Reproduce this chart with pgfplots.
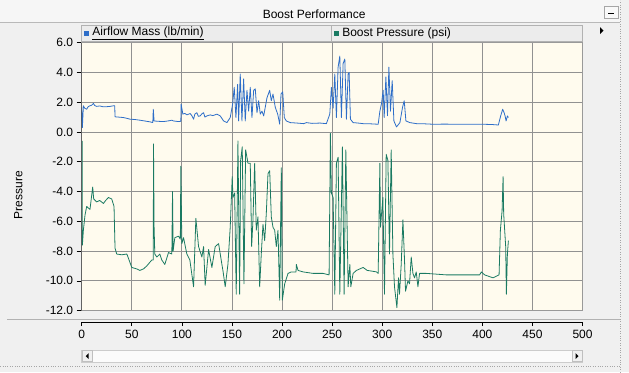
\documentclass[border=0pt]{standalone}
\usepackage{pgfplots}
\pgfplotsset{compat=1.18}
\usepackage{fontspec}
\setmainfont{Liberation Sans}
\definecolor{winbg}{RGB}{240,240,240}
\definecolor{titlebg}{RGB}{246,246,246}
\definecolor{plotbg}{RGB}{255,251,238}
\definecolor{gridgray}{RGB}{145,145,145}
\definecolor{airblue}{RGB}{46,110,200}
\definecolor{boostgreen}{RGB}{26,122,98}
\definecolor{legbg}{RGB}{236,236,236}
\newcommand\uifont{\fontsize{12}{14}\selectfont}
\begin{document}
\begin{tikzpicture}[x=1pt,y=1pt]
% window background
\fill[winbg] (0,0) rectangle (629,372);
\fill[titlebg] (0,350) rectangle (620,372);
\draw[gray!55] (0,350) -- (620,350);
\node[font=\uifont] at (314,358) {Boost Performance};
% minimize button
\draw[gray!70,fill=white!95!gray] (604,354) rectangle (618,366);
\draw[black,line width=1pt] (608,359) -- (614,359);
% legend bar
\draw[gray!60,fill=legbg] (81.5,331) rectangle (582.5,347);
\draw[gray!60] (331.5,331) -- (331.5,347);
\fill[airblue] (84,336) rectangle (89,341);
\node[font=\uifont,anchor=west,inner sep=0pt] at (92,339) {\underline{Airflow Mass (lb/min)}};
\fill[boostgreen] (334,336) rectangle (339,341);
\node[font=\uifont,anchor=west,inner sep=0pt] at (342,339) {Boost Pressure (psi)};
\fill[black] (600,338) -- (600,345) -- (603.5,341.5) -- cycle;
% separators and borders
\draw[gray!60] (7,52.5) -- (620,52.5);
\draw[gray!70,dotted] (620,0) -- (620,372);
\draw[gray!70,dotted] (0,5.5) -- (620,5.5);
% scrollbar
\draw[gray!40,fill=white!97!gray] (81.5,10) rectangle (582.5,22);
\draw[gray!50,fill=winbg] (82,10.5) rectangle (92,21.5);
\fill[black] (88.5,13) -- (88.5,19) -- (85.5,16) -- cycle;
\draw[gray!50,fill=winbg] (572,10.5) rectangle (582,21.5);
\fill[black] (575.5,13) -- (575.5,19) -- (578.5,16) -- cycle;
% y label
\node[font=\uifont,rotate=90] at (18,177) {Pressure};

\begin{axis}[
  at={(81.5pt,61.5pt)}, anchor=south west,
  scale only axis, width=501pt, height=268pt,
  xmin=0, xmax=500, ymin=-12, ymax=6,
  axis background/.style={fill=plotbg},
  xtick={0,50,...,500}, xticklabels={},
  ytick={-12,-10,...,6},
  grid=major, grid style={gridgray, line width=0.7pt},
  axis line style={draw=gray!80},
  tick align=outside, major tick length=5pt,
  ytick pos=left, xtick style={draw=none},
  ytick style={black, line width=0.6pt},
  yticklabel style={font=\uifont, /pgf/number format/.cd, fixed, fixed zerofill, precision=1, assume math mode=true},
  every axis plot/.append style={line width=0.8pt, line join=round},
  clip=true,
]
\addplot[airblue] coordinates {
(0,1.65) (0.7,0.29) (1.7,1.76) (3,1.6) (5,1.53) (6.5,1.7) (8.3,1.76) (10,1.8) (11.7,1.92) (13,1.78) (15,1.72)
(18,1.75) (21.7,1.69) (25,1.7) (28.3,1.72) (31.7,1.76) (33,1.76) (33.3,1.02)
(37,1.0) (41.7,0.97) (45,0.92) (48.3,0.86) (53,0.84) (58.3,0.79) (63,0.74) (68.3,0.68)
(71,0.63) (71.5,1.53) (72.3,0.74) (76,0.72) (81.7,0.70) (86,0.74) (90,0.79) (91.7,0.74)
(96.7,0.70) (99,0.72) (99.3,1.87) (101,1.2) (103,1.25) (105,1.15) (108.3,1.24) (110,1.1)
(111.7,0.86) (113,1.2) (115,1.3) (116.5,1.05) (118.3,1.08) (120,1.22) (121.7,1.3) (123,1.0)
(125,1.08) (128.3,1.15) (131,1.1) (135,1.2) (138.3,1.08) (141.7,0.74) (145,0.63)
(148.3,0.97) (150.7,1.87) (152.3,3.0) (154,0.97) (155.7,3.2) (156.7,0.74) (158.3,3.9)
(160,0.74) (161.7,3.57) (163.3,0.74) (165,2.8) (166.7,1.4) (168.3,3.0) (170,0.97)
(171.7,2.8) (173.3,2.9) (175,1.3) (176.7,2.1) (178.3,1.2) (180,1.4) (181.7,1.08)
(185,2.3) (187.7,2.8) (189.3,2.1) (191,2.55) (193.3,1.65) (195.7,1.2) (197.7,0.52)
(199,2.55) (200.7,2.7) (202.3,0.97) (204.3,0.74) (208.3,0.63) (215,0.6) (221.7,0.56)
(224.3,0.63) (230,0.58) (238,0.6) (244.3,0.56) (247.7,1.2) (249.3,3.0) (251,1.6)
(252.7,3.9) (254.3,0.97) (256,4.36) (257.7,5.1) (259.3,0.97) (261,4.6) (262.7,4.9)
(264.3,0.86) (266,3.9) (267,4.0) (268.3,0.86) (271,0.63) (276,0.6) (281,0.56)
(288,0.55) (296,0.52) (297.7,1.4) (299.3,1.9) (301,2.8) (302,0.97) (303.7,3.7)
(305.3,1.1) (306.7,4.36) (308.3,1.4) (310,3.45) (311.7,0.74) (314.3,0.34) (317.7,0.63)
(320.3,1.65) (322,2.1) (323.7,0.74) (327.7,0.63) (334.3,0.56) (342,0.55) (351,0.52)
(362,0.53) (374.3,0.52) (388,0.52) (401,0.52) (410,0.5) (416,0.47) (418.3,1.08)
(420.3,1.53) (421.7,1.3) (422.7,1.08) (423.7,0.74) (425,1.08) (426,0.97)
};
\addplot[boostgreen] coordinates {
(0.5,-0.6) (0.7,-7.6) (1.7,-6.6) (3.3,-5.6) (5,-5.0) (6.5,-5.1) (8.3,-5.2) (11,-3.7)
(12,-4.5) (15,-4.7) (18,-4.6) (21.7,-4.8) (24,-4.6) (26.7,-4.4) (30,-4.5) (32.3,-5.0)
(33.3,-7.8) (35,-8.2) (40,-8.25) (45,-8.2) (45.7,-8.3) (50,-9.1) (55,-9.2) (58,-9.3)
(61.7,-9.2) (65,-9.0) (70,-8.6) (71.5,-8.6) (71.7,-0.8) (72.3,-6.4) (73,-8.2) (75,-8.4)
(78,-8.2) (80,-8.6) (83,-8.9) (86.7,-8.1) (90,-8.2) (90.7,-4.0) (91.3,-8.0) (93,-7.1)
(96.7,-7.0) (98.5,-7.2) (99,-2.3) (100,-7.5) (101.7,-7.1) (105,-8.2) (108,-8.6)
(111.7,-10.4) (114,-5.8) (116.7,-7.7) (120,-8.4) (121.7,-7.7) (123.3,-10.3) (126.7,-7.9)
(130,-9.1) (133.3,-7.7) (136.7,-7.5) (140,-8.9) (141,-9.3) (143.3,-10.4) (146,-8.9)
(148.3,-6.4) (150.3,-3.0) (151,-4.4) (152.7,-4.1) (154.3,-10.9) (156,-0.6) (157.7,-10.9)
(158.7,-1.9) (160.3,-1.0) (162,-10.2) (163.7,-1.2) (166,-2.1) (168.3,-2.1) (169.7,-7.7)
(171,-5.9) (172.7,-2.1) (174.3,-6.6) (176,-5.7) (177.7,-10.4) (179.3,-8.2) (181,-6.2)
(182.7,-7.3) (184.3,-5.5) (186,-2.8) (187.7,-2.6) (189.3,-5.7) (191,-6.4) (192.7,-6.6)
(194.3,-7.7) (196,-6.6) (197.7,-11.3) (199.3,-2.4) (200.3,-11.3) (202.7,-10.2) (206,-9.5)
(209.3,-9.4) (214,-9.4) (214.3,-8.9) (216,-9.3) (221,-9.4) (226,-9.45) (231,-9.5)
(236,-9.5) (241,-9.5) (247,-9.6) (248.3,-0.1) (249.3,-4.1) (251,-4.4) (252.7,-10.9)
(254.3,-2.1) (256,-1.7) (257.7,-10.9) (260.3,-1.0) (262,-10.9) (263.7,-1.2) (266,-10.4)
(267.7,-8.9) (268.7,-10.4) (271,-9.5) (274.3,-9.3) (281,-9.1) (285,-9.3) (290,-9.35)
(294.3,-9.4) (296,-9.5) (297.7,-2.1) (298.3,-6.4) (300.7,-4.4) (302.3,-10.9) (304,-1.5)
(305.7,-1.9) (307.3,-8.2) (309,-1.2) (310.7,-8.2) (312.3,-10.4) (314.7,-11.8) (316.3,-9.8)
(317.3,-10.9) (319,-8.9) (320.7,-5.9) (322.3,-8.6) (323.3,-10.7) (325.7,-10.0) (327.3,-10.2)
(329,-8.4) (330.7,-9.5) (332.3,-9.8) (334,-9.4) (335.7,-10.4) (337.3,-9.5) (344,-9.5)
(354,-9.55) (364,-9.6) (380,-9.6) (397.3,-9.6) (399,-9.4) (402.3,-9.6) (410.7,-9.8)
(416.7,-9.6) (418,-6.6) (419.7,-5.3) (420.7,-3.0) (421.3,-5.5) (423.3,-7.7) (424,-10.9)
(425,-8.2) (426,-7.3)
};
\draw[black, line width=0.8pt] (axis cs:0,-12) -- (axis cs:0,6);
\end{axis}

\begin{axis}[
  at={(81.5pt,50pt)}, anchor=south west,
  scale only axis, width=501pt, height=8pt,
  xmin=0, xmax=500, ymin=0, ymax=1,
  axis x line=bottom, axis y line=none,
  axis line style={-, black, line width=0.8pt},
  xtick={0,50,...,500}, ytick=\empty,
  tick align=outside, major tick length=4pt,
  xtick style={black, line width=0.6pt},
  xticklabel style={font=\uifont, /pgf/number format/assume math mode=true},
]
\end{axis}
\end{tikzpicture}
\end{document}
